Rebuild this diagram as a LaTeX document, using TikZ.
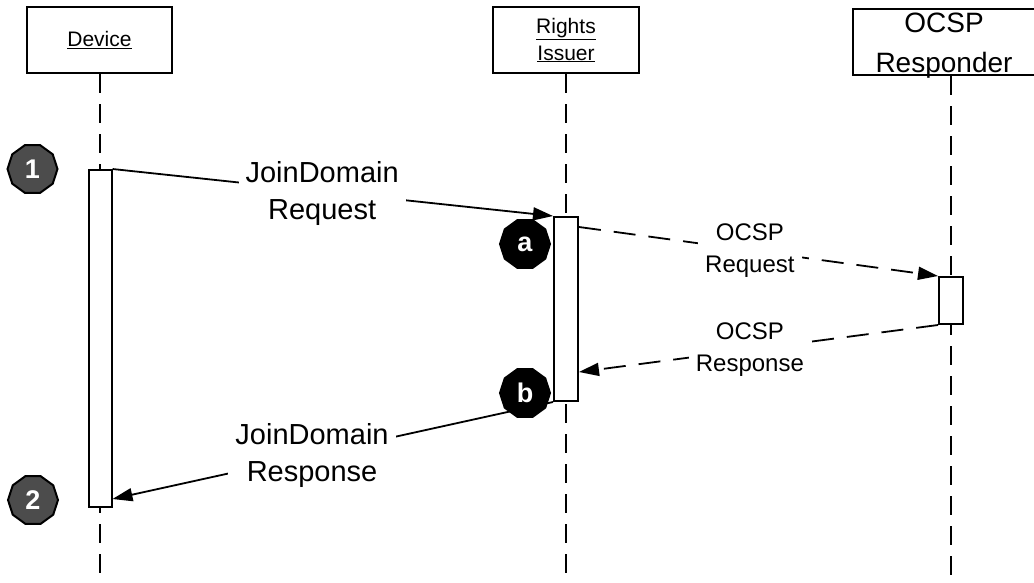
\documentclass[tikz,border=0pt]{standalone}
\usepackage{fontspec}
\setmainfont{Liberation Sans}
\usetikzlibrary{shapes.geometric, arrows.meta}
\usetikzlibrary{calc}

\begin{document}
\begin{tikzpicture}[x=1pt, y=-1pt,
    actor/.style={draw, line width=2pt, rectangle, inner sep=0pt, align=center},
    bar/.style={draw, line width=2pt, fill=white, rectangle, inner sep=0pt},
    life/.style={line width=2pt, dash pattern=on 19pt off 11pt},
    msg/.style={line width=1.8pt, -{Triangle[length=20pt,width=13pt]}},
    msgdash/.style={msg, dash pattern=on 22pt off 13pt},
    lbl/.style={fill=white, inner xsep=7pt, inner ysep=2pt, align=center, font=\fontsize{29}{37}\selectfont},
    lblsmall/.style={lbl, font=\fontsize{24}{32}\selectfont},
    badge/.style={draw, line width=2pt, regular polygon, regular polygon sides=10, minimum size=50pt, inner sep=0pt, text=white, font=\bfseries\fontsize{27}{27}\selectfont}]

  \useasboundingbox (0,0) rectangle (1034,582);

  % heads
  \node (dev) [actor, minimum width=145pt, minimum height=66pt, font=\fontsize{21}{27}\selectfont] at (99.5,40) {\underline{Device}};
  \node (ri) [actor, minimum width=146pt, minimum height=66pt, font=\fontsize{21}{27}\selectfont] at (566,40) {\underline{Rights}\\\underline{Issuer}};
  \node (resp) [actor, minimum width=196pt, minimum height=66pt] at (951,42) {};
  \node (resplbl) [inner sep=0pt, align=center, font=\fontsize{28}{40}\selectfont] at (944,46) {OCSP\\Responder};

  % lifelines
  \coordinate (devend) at (99.5,582);
  \coordinate (riend) at (566,582);
  \coordinate (respend) at (951,582);
  \draw [life] (dev.south) -- (devend);
  \draw [life] (ri.south) -- (riend);
  \draw [life] (resp.south) -- (respend);

  % activations
  \node (devbar) [bar, minimum width=23pt, minimum height=337pt] at (100,338.5) {};
  \node (ribar) [bar, minimum width=24pt, minimum height=184pt] at (566,309) {};
  \node (rspbar) [bar, minimum width=24pt, minimum height=47pt] at (951,300.5) {};

  % messages
  \draw [msg] (devbar.north east) -- node[lbl, pos=0.476, yshift=-2pt] {JoinDomain\\Request} (ribar.north west);
  \draw [msgdash] ($(ribar.north east)+(0,11)$) -- node[lblsmall, pos=0.476] {OCSP\\Request} (rspbar.north west);
  \draw [msgdash] (rspbar.south west) -- node[lblsmall, pos=0.524] {OCSP\\Response} ($(ribar.south east)+(0,-30)$);
  \draw [msg] (ribar.south west) -- node[lbl, pos=0.547] {JoinDomain\\Response} ($(devbar.south east)+(0,-9)$);

  % steps
  \node (b1) [badge, fill=black!70] at (32.5,169) {1};
  \node (b2) [badge, fill=black!70] at (33,500) {2};
  \node (ba) [badge, fill=black] at (525,244) {a};
  \node (bb) [badge, fill=black] at (525,393) {b};
\end{tikzpicture}
\end{document}
